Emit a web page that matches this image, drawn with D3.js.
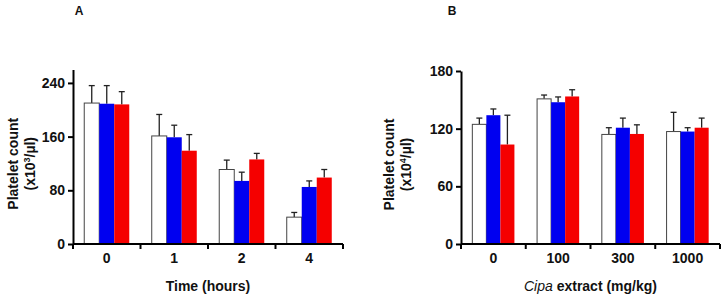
<!DOCTYPE html>
<html>
<head>
<meta charset="utf-8">
<script src="https://cdn.jsdelivr.net/npm/d3@7"></script>
<style>
  body { margin: 0; background: #fff; }
  svg { display: block; font-family: "Liberation Sans", Arial, sans-serif; }
</style>
</head>
<body>
<svg id="chart" width="725" height="297"></svg>
<script>
// panel A: platelet count vs time
const timeLabels = ["0", "1", "2", "4"];
const timeWhite = [210, 161, 111, 40];
const timeWhiteErr = [26, 32, 14, 7];
const timeBlue = [209, 159, 94, 85];
const timeBlueErr = [27, 18, 13, 9];
const timeRed = [208, 139, 126, 99];
const timeRedErr = [19, 24, 9, 12];
const timeTicks = [0, 80, 160, 240];

// panel B: platelet count vs dose
const doseLabels = ["0", "100", "300", "1000"];
const doseWhite = [124.5, 151, 114, 117];
const doseWhiteErr = [6.5, 4, 7, 20];
const doseBlue = [134, 147.5, 121, 117];
const doseBlueErr = [6.5, 5.5, 10, 4];
const doseRed = [103.5, 153.5, 114.5, 121];
const doseRedErr = [30.5, 7, 9.5, 10];
const doseTicks = [0, 60, 120, 180];

const seriesKeys = ["white", "blue", "red"];
const fills = { white: "#ffffff", blue: "#0000f0", red: "#f50000" };

const svg = d3.select("#chart");

function panel(opts) {
    const g = svg.append("g");
    const x = d3.scaleBand()
        .domain(opts.cats)
        .range([opts.x0, opts.x1])
        .paddingInner(opts.pad)
        .paddingOuter(opts.pad / 2);
    const xs = d3.scaleBand()
        .domain(seriesKeys)
        .range([0, x.bandwidth()]);
    const y = d3.scaleLinear()
        .domain([0, opts.yMax])
        .range([opts.y0, opts.yTop]);

    const rows = [];
    opts.cats.forEach((c, i) => {
        seriesKeys.forEach((k, j) => {
            rows.push({ cat: c, key: k, v: opts.vals[j][i], e: opts.errs[j][i] });
        });
    });

    // error bars (upper only)
    const eb = g.selectAll(".err").data(rows).enter().append("g").attr("class", "err")
        .attr("stroke", "#222").attr("stroke-width", 1.3);
    eb.append("line")
        .attr("x1", d => x(d.cat) + xs(d.key) + xs.bandwidth() / 2)
        .attr("x2", d => x(d.cat) + xs(d.key) + xs.bandwidth() / 2)
        .attr("y1", d => y(d.v))
        .attr("y2", d => y(d.v + d.e));
    eb.append("line")
        .attr("x1", d => x(d.cat) + xs(d.key) + xs.bandwidth() / 2 - 3)
        .attr("x2", d => x(d.cat) + xs(d.key) + xs.bandwidth() / 2 + 3)
        .attr("y1", d => y(d.v + d.e))
        .attr("y2", d => y(d.v + d.e));

    g.selectAll(".bar").data(rows).enter().append("rect")
        .attr("class", "bar")
        .attr("x", d => x(d.cat) + xs(d.key))
        .attr("y", d => y(d.v))
        .attr("width", xs.bandwidth())
        .attr("height", d => y(0) - y(d.v))
        .attr("fill", d => fills[d.key])
        .attr("stroke", d => d.key === "white" ? "#444" : "none")
        .attr("stroke-width", 1);

    // y axis
    const ya = g.append("g")
        .attr("transform", `translate(${opts.x0},0)`)
        .call(d3.axisLeft(y).tickValues(opts.ticks).tickSize(5).tickSizeOuter(0));
    ya.select(".domain").attr("stroke-width", 2);
    ya.selectAll(".tick line").attr("stroke-width", 2);
    ya.selectAll(".tick text")
        .attr("font-size", 14).attr("font-weight", "bold")
        .attr("font-family", "Liberation Sans, Arial, sans-serif").attr("fill", "#111");

    // x axis: labels at centres, ticks at band edges
    const xa = g.append("g")
        .attr("transform", `translate(0,${opts.y0})`)
        .call(d3.axisBottom(x).tickSize(0).tickPadding(9));
    xa.select(".domain").attr("stroke-width", 2).attr("d", `M${opts.x0},0H${opts.x1}`);
    xa.selectAll(".tick text")
        .attr("font-size", 14).attr("font-weight", "bold")
        .attr("font-family", "Liberation Sans, Arial, sans-serif").attr("fill", "#111");
    const edges = d3.range(opts.cats.length + 1).map(i => opts.x0 + i * x.step());
    xa.selectAll(".edge").data(edges).enter().append("line")
        .attr("class", "edge")
        .attr("x1", d => d).attr("x2", d => d)
        .attr("y1", 0).attr("y2", 5)
        .attr("stroke", "#000").attr("stroke-width", 2);

    // titles
    const yt = g.append("text")
        .attr("transform", `translate(${opts.titleX},${(opts.y0 + opts.yTop) / 2 + 7}) rotate(-90)`)
        .attr("text-anchor", "middle")
        .attr("font-size", 14).attr("font-weight", "bold").attr("fill", "#111");
    yt.append("tspan").attr("x", 0).attr("dy", 0).text("Platelet count");
    const l2 = yt.append("tspan").attr("x", 0).attr("dy", 17).text("(x10");
    l2.append("tspan").attr("font-size", 9).attr("dy", -5).text(opts.exp);
    l2.append("tspan").attr("dy", 5).text("/µl)");

    const xt = g.append("text")
        .attr("x", (opts.x0 + opts.x1) / 2)
        .attr("y", 291)
        .attr("text-anchor", "middle")
        .attr("font-size", 14).attr("font-weight", "bold").attr("fill", "#111");
    opts.xTitle(xt);

    g.append("text")
        .attr("x", opts.letterX).attr("y", 15)
        .attr("text-anchor", "middle")
        .attr("font-size", 12).attr("font-weight", "bold").attr("fill", "#111")
        .text(opts.letter);
}

panel({
    cats: timeLabels,
    vals: [timeWhite, timeBlue, timeRed],
    errs: [timeWhiteErr, timeBlueErr, timeRedErr],
    ticks: timeTicks,
    yMax: 260,
    x0: 73, x1: 343, pad: 0.333,
    y0: 244, yTop: 69.5,
    titleX: 18, exp: "3",
    letter: "A", letterX: 79,
    xTitle: t => t.text("Time (hours)")
});

panel({
    cats: doseLabels,
    vals: [doseWhite, doseBlue, doseRed],
    errs: [doseWhiteErr, doseBlueErr, doseRedErr],
    ticks: doseTicks,
    yMax: 180,
    x0: 461, x1: 720, pad: 0.35,
    y0: 244, yTop: 71,
    titleX: 394, exp: "4",
    letter: "B", letterX: 452,
    xTitle: t => {
        t.append("tspan").attr("font-style", "italic").attr("font-weight", "normal").text("Cipa");
        t.append("tspan").text(" extract (mg/kg)");
    }
});
</script>
</body>
</html>
